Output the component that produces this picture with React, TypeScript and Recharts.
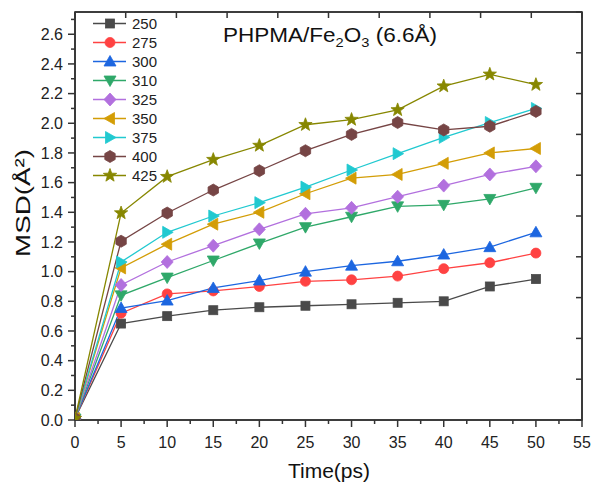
import { LineChart, Line, XAxis, YAxis, Legend } from 'recharts';

const times = [0, 5, 10, 15, 20, 25, 30, 35, 40, 45, 50];

const msd250 = [0.01, 0.65, 0.7, 0.74, 0.76, 0.77, 0.78, 0.79, 0.8, 0.9, 0.95];
const msd275 = [0.01, 0.72, 0.85, 0.87, 0.9, 0.935, 0.945, 0.97, 1.02, 1.06, 1.125];
const msd300 = [0.01, 0.755, 0.805, 0.89, 0.94, 1.0, 1.04, 1.07, 1.115, 1.165, 1.265];
const msd310 = [0.01, 0.84, 0.96, 1.075, 1.19, 1.3, 1.37, 1.44, 1.45, 1.49, 1.565];
const msd325 = [0.01, 0.91, 1.065, 1.175, 1.285, 1.39, 1.43, 1.505, 1.58, 1.655, 1.71];
const msd350 = [0.01, 1.025, 1.185, 1.32, 1.4, 1.525, 1.63, 1.655, 1.73, 1.8, 1.83];
const msd375 = [0.01, 1.065, 1.265, 1.375, 1.465, 1.57, 1.685, 1.795, 1.905, 2.005, 2.1];
const msd400 = [0.01, 1.205, 1.395, 1.55, 1.68, 1.815, 1.925, 2.005, 1.955, 1.98, 2.08];
const msd425 = [0.01, 1.395, 1.64, 1.755, 1.85, 1.99, 2.025, 2.09, 2.25, 2.33, 2.26];

const xMajorTicks = [0, 5, 10, 15, 20, 25, 30, 35, 40, 45, 50, 55];
const xMinorTicks = [2.5, 7.5, 12.5, 17.5, 22.5, 27.5, 32.5, 37.5, 42.5, 47.5, 52.5];
const yMajorTicks = [0, 0.2, 0.4, 0.6, 0.8, 1.0, 1.2, 1.4, 1.6, 1.8, 2.0, 2.2, 2.4, 2.6];
const yMinorTicks = [0.1, 0.3, 0.5, 0.7, 0.9, 1.1, 1.3, 1.5, 1.7, 1.9, 2.1, 2.3, 2.5, 2.7];
const frameTicks = [0, 1, 2, 3, 4, 5, 6, 7, 8, 9, 10];

const AXIS = '#333333';
const FONT = '"Liberation Sans", Arial, sans-serif';

const series = [
  { key: 's250', name: '250', values: msd250, color: '#4a4a4a', shape: 'square' },
  { key: 's275', name: '275', values: msd275, color: '#ff4242', shape: 'circle' },
  { key: 's300', name: '300', values: msd300, color: '#1c66e0', shape: 'up' },
  { key: 's310', name: '310', values: msd310, color: '#2fa869', shape: 'down' },
  { key: 's325', name: '325', values: msd325, color: '#b270de', shape: 'diamond' },
  { key: 's350', name: '350', values: msd350, color: '#d39d06', shape: 'left' },
  { key: 's375', name: '375', values: msd375, color: '#21c9d0', shape: 'right' },
  { key: 's400', name: '400', values: msd400, color: '#764545', shape: 'hex' },
  { key: 's425', name: '425', values: msd425, color: '#878700', shape: 'star' },
];

const data = times.map((t, i) => {
  const row: Record<string, number> = { t };
  series.forEach((s) => {
    row[s.key] = s.values[i];
  });
  return row;
});

function Marker({ shape, cx, cy, color }: { shape: string; cx: number; cy: number; color: string }) {
  const common = { fill: color, stroke: color, strokeWidth: 0.8 };
  switch (shape) {
    case 'square':
      return <rect x={cx - 4.5} y={cy - 4.5} width={9} height={9} {...common} />;
    case 'circle':
      return <circle cx={cx} cy={cy} r={5} {...common} />;
    case 'up':
      return <polygon points={`${cx},${cy - 6} ${cx + 6},${cy + 4.5} ${cx - 6},${cy + 4.5}`} {...common} />;
    case 'down':
      return <polygon points={`${cx},${cy + 6} ${cx + 6},${cy - 4.5} ${cx - 6},${cy - 4.5}`} {...common} />;
    case 'diamond':
      return <polygon points={`${cx},${cy - 6.5} ${cx + 6},${cy} ${cx},${cy + 6.5} ${cx - 6},${cy}`} {...common} />;
    case 'left':
      return <polygon points={`${cx - 6},${cy} ${cx + 4.5},${cy - 6} ${cx + 4.5},${cy + 6}`} {...common} />;
    case 'right':
      return <polygon points={`${cx + 6},${cy} ${cx - 4.5},${cy - 6} ${cx - 4.5},${cy + 6}`} {...common} />;
    case 'hex': {
      const pts = [0, 1, 2, 3, 4, 5]
        .map((k) => {
          const a = ((-90 + 60 * k) * Math.PI) / 180;
          return `${cx + 6 * Math.cos(a)},${cy + 6 * Math.sin(a)}`;
        })
        .join(' ');
      return <polygon points={pts} {...common} />;
    }
    case 'star': {
      const pts = Array.from({ length: 10 }, (_, k) => {
        const r = k % 2 === 0 ? 7 : 2.9;
        const a = ((-90 + 36 * k) * Math.PI) / 180;
        return `${cx + r * Math.cos(a)},${cy + r * Math.sin(a)}`;
      }).join(' ');
      return <polygon points={pts} {...common} />;
    }
    default:
      return null;
  }
}

const near = (list: number[], v: number) => list.some((m) => Math.abs(m - v) < 1e-6);

const XTick = (props: any) => {
  const { x, y, payload } = props;
  const major = near(xMajorTicks, payload.value);
  return (
    <g>
      <line x1={x} y1={y} x2={x} y2={y + (major ? 7 : 4)} stroke={AXIS} strokeWidth={1.5} />
      {major && (
        <text x={x} y={y + 28} textAnchor="middle" fontSize={16} fontFamily={FONT} fill="#222">
          {payload.value}
        </text>
      )}
    </g>
  );
};

const YTick = (props: any) => {
  const { x, y, payload } = props;
  const major = near(yMajorTicks, payload.value);
  return (
    <g>
      <line x1={x} y1={y} x2={x - (major ? 7 : 4)} y2={y} stroke={AXIS} strokeWidth={1.5} />
      {major && (
        <text x={x - 12} y={y} dy="0.35em" textAnchor="end" fontSize={16} fontFamily={FONT} fill="#222">
          {payload.value.toFixed(1)}
        </text>
      )}
    </g>
  );
};

const TopTick = (props: any) => {
  const { x, y } = props;
  return <line x1={x} y1={y} x2={x} y2={y + 6} stroke={AXIS} strokeWidth={1.5} />;
};

const RightTick = (props: any) => {
  const { x, y } = props;
  return <line x1={x} y1={y} x2={x - 6} y2={y} stroke={AXIS} strokeWidth={1.5} />;
};

function LegendBox() {
  return (
    <div style={{ fontFamily: FONT, fontSize: 15, color: '#222' }}>
      {series.map((s) => (
        <div key={s.key} style={{ display: 'flex', alignItems: 'center', height: 18.9 }}>
          <svg width={33} height={19} style={{ display: 'block' }}>
            <line x1={0} y1={9.5} x2={33} y2={9.5} stroke={s.color} strokeWidth={1.3} />
            <Marker shape={s.shape} cx={17} cy={9.5} color={s.color} />
          </svg>
          <span style={{ marginLeft: 6 }}>{s.name}</span>
        </div>
      ))}
    </div>
  );
}

export default function App() {
  return (
    <div style={{ position: 'fixed', left: 0, top: 0, width: 593, height: 484, background: '#fff' }}>
      <LineChart width={593} height={484} data={data} margin={{ top: 0, right: 0, bottom: 0, left: 0 }}>
        <XAxis
          dataKey="t"
          type="number"
          domain={[0, 55]}
          ticks={[...xMajorTicks, ...xMinorTicks].sort((a, b) => a - b)}
          interval={0}
          allowDataOverflow
          height={64}
          tickSize={0}
          tickMargin={0}
          tickLine={false}
          tick={<XTick />}
          axisLine={{ stroke: AXIS, strokeWidth: 1.6 }}
        />
        <YAxis
          type="number"
          domain={[0, 2.75]}
          ticks={[...yMajorTicks, ...yMinorTicks].sort((a, b) => a - b)}
          interval={0}
          allowDataOverflow
          width={75}
          tickSize={0}
          tickMargin={0}
          tickLine={false}
          tick={<YTick />}
          axisLine={{ stroke: AXIS, strokeWidth: 1.6 }}
        />
        {/* Origin-style frame: independent top/right axes with inward ticks */}
        <XAxis
          xAxisId="xUpper"
          dataKey="t"
          orientation="top"
          type="number"
          domain={[0, 10]}
          allowDataOverflow
          ticks={frameTicks}
          interval={0}
          height={12}
          tickSize={0}
          tickMargin={0}
          tickLine={false}
          tick={<TopTick />}
          axisLine={{ stroke: AXIS, strokeWidth: 1.6 }}
        />
        <YAxis
          yAxisId="yRight"
          orientation="right"
          type="number"
          domain={[0, 10]}
          allowDataOverflow
          ticks={frameTicks}
          interval={0}
          width={11}
          tickSize={0}
          tickMargin={0}
          tickLine={false}
          tick={<RightTick />}
          axisLine={{ stroke: AXIS, strokeWidth: 1.6 }}
        />
        <Line
          xAxisId="xUpper"
          yAxisId="yRight"
          dataKey="t"
          stroke="none"
          dot={false}
          activeDot={false}
          legendType="none"
          isAnimationActive={false}
        />
        {series.map((s) => (
          <Line
            key={s.key}
            dataKey={s.key}
            name={s.name}
            stroke={s.color}
            strokeWidth={1.3}
            isAnimationActive={false}
            dot={(p: any) => (
              <Marker key={`${s.key}-${p.index}`} shape={s.shape} cx={p.cx} cy={p.cy} color={s.color} />
            )}
            activeDot={false}
          />
        ))}
        <Legend
          layout="vertical"
          align="center"
          verticalAlign="middle"
          wrapperStyle={{ left: 93, top: 14.5, width: 'auto' }}
          content={<LegendBox />}
        />
        {/* plot frame (top edge fallback) */}
        <rect x={75} y={12} width={507} height={408} fill="none" stroke={AXIS} strokeWidth={1.6} />
        <text x={223} y={42} fontSize={20} fontFamily={FONT} fill="#111" textLength={214} lengthAdjust="spacingAndGlyphs">
          PHPMA/Fe
          <tspan dy={5} fontSize={13}>2</tspan>
          <tspan dy={-5}>O</tspan>
          <tspan dy={5} fontSize={13}>3</tspan>
          <tspan dy={-5}> (6.6Å)</tspan>
        </text>
        <text
          x={22}
          y={203}
          transform="rotate(-90 22 203)"
          textAnchor="middle"
          dominantBaseline="central"
          fontSize={21}
          fontFamily={FONT}
          fill="#111"
          textLength={108}
          lengthAdjust="spacingAndGlyphs"
        >
          MSD(Å²)
        </text>
        <text x={329} y={470} textAnchor="middle" dominantBaseline="central" fontSize={21} fontFamily={FONT} fill="#111">
          Time(ps)
        </text>
      </LineChart>
    </div>
  );
}
